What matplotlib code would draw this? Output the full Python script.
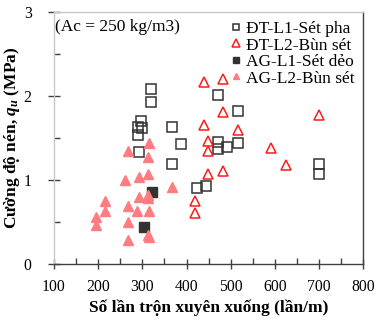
import matplotlib
matplotlib.use("Agg")
import matplotlib.pyplot as plt
from matplotlib.ticker import MultipleLocator

plt.rcParams['font.family'] = ['Liberation Serif', 'DejaVu Serif']
plt.rcParams['mathtext.fontset'] = 'custom'
plt.rcParams['mathtext.it'] = 'Liberation Serif:italic:bold'
plt.rcParams['mathtext.rm'] = 'Liberation Serif:bold'

# ĐT-L1-Sét pha (open black squares)
dt_l1_x = [320, 320, 298, 291, 300, 291, 292, 368, 387, 368, 423, 444, 472, 516, 472, 472, 491, 516, 700, 700]
dt_l1_y = [2.09, 1.93, 1.71, 1.64, 1.62, 1.54, 1.34, 1.64, 1.43, 1.19, 0.91, 0.93, 2.01, 1.82, 1.46, 1.37, 1.40, 1.44, 1.20, 1.07]

# ĐT-L2-Bùn sét (open red triangles)
dt_l2_x = [440, 483, 483, 440, 516, 448, 448, 448, 483, 420, 420, 700, 592, 624]
dt_l2_y = [2.17, 2.21, 1.81, 1.66, 1.60, 1.47, 1.35, 1.07, 1.11, 0.75, 0.61, 1.78, 1.39, 1.18]

# AG-L1-Sét dẻo (filled dark squares)
ag_l1_x = [321, 304]
ag_l1_y = [0.86, 0.44]

# AG-L2-Bùn sét (filled pink triangles)
ag_l2_x = [316, 267, 312, 260, 292, 312, 368, 292, 312, 312, 215, 215, 267, 287, 315, 195, 195, 267, 267, 313, 316]
ag_l2_y = [1.44, 1.35, 1.28, 1.00, 1.04, 1.07, 0.92, 0.80, 0.83, 0.79, 0.75, 0.64, 0.70, 0.63, 0.63, 0.56, 0.47, 0.50, 0.29, 0.35, 0.33]

fig = plt.figure(figsize=(3.77, 3.22), dpi=100)
ax = fig.add_axes([0.143, 0.179, 0.821, 0.783])

ax.plot(dt_l1_x, dt_l1_y, linestyle='none', marker='s', markersize=6.5,
        markerfacecolor='none', markeredgecolor='#333333', markeredgewidth=1.1,
        label='ĐT-L1-Sét pha')
ax.plot(dt_l2_x, dt_l2_y, linestyle='none', marker='^', markersize=7,
        markerfacecolor='none', markeredgecolor='#ff1a1a', markeredgewidth=1.1,
        label='ĐT-L2-Bùn sét')
ax.plot(ag_l1_x, ag_l1_y, linestyle='none', marker='s', markersize=6.5,
        markerfacecolor='#333333', markeredgecolor='#333333',
        label='AG-L1-Sét dẻo')
ax.plot(ag_l2_x, ag_l2_y, linestyle='none', marker='^', markersize=6.5,
        markerfacecolor='#ff7c80', markeredgecolor='#ff7c80',
        label='AG-L2-Bùn sét')

ax.set_xlim(100, 800)
ax.set_ylim(0, 3)
ax.xaxis.set_major_locator(MultipleLocator(100))
ax.xaxis.set_minor_locator(MultipleLocator(50))
ax.yaxis.set_major_locator(MultipleLocator(1))
ax.yaxis.set_minor_locator(MultipleLocator(0.5))

ax.spines['left'].set_color('#c8c8c8')
ax.spines['top'].set_color('#c8c8c8')
ax.spines['bottom'].set_color('#404040')
ax.spines['right'].set_color('#404040')
for s in ax.spines.values():
    s.set_linewidth(1.0)

ax.tick_params(axis='x', which='major', direction='inout', length=7, width=1, color='#404040', labelsize=11.3, pad=7)
ax.tick_params(axis='x', which='minor', direction='in', length=4, width=1, color='#404040')
ax.tick_params(axis='y', which='major', direction='inout', length=8, width=1, color='#404040', labelsize=11.3, pad=12)
ax.tick_params(axis='y', which='minor', direction='in', length=4, width=1, color='#404040')

ax.set_xlabel('Số lần trộn xuyên xuống (lần/m)', fontsize=12.5, fontweight='bold', labelpad=3)
ax.set_ylabel('Cường độ nén, $q_u$ (MPa)', fontsize=12.5, fontweight='bold', labelpad=1)

ax.text(0.005, 0.94, '(Ac = 250 kg/m3)', transform=ax.transAxes, fontsize=12.5, va='center', ha='left')

leg = ax.legend(loc='upper right', frameon=False, fontsize=12.5, handletextpad=0.15,
                borderaxespad=0.3, labelspacing=0.02, handlelength=0.9, borderpad=0.2,
                markerscale=0.75)

fig.savefig('out.png', dpi=100)
